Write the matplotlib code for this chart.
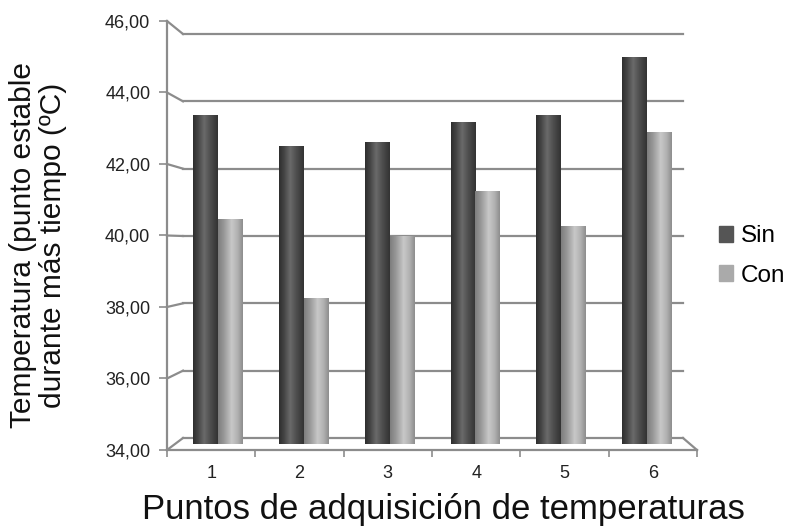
import numpy as np
import matplotlib
matplotlib.use("Agg")
import matplotlib.pyplot as plt
from matplotlib.colors import LinearSegmentedColormap
from matplotlib.lines import Line2D
from matplotlib.patches import Rectangle

# ---- data ----
categories = ["1", "2", "3", "4", "5", "6"]
sin_values = [43.5, 42.6, 42.7, 43.3, 43.5, 45.15]
con_values = [40.5, 38.2, 40.0, 41.3, 40.3, 43.0]
series_names = ["Sin", "Con"]
y_ticks = [34, 36, 38, 40, 42, 44, 46]
y_tick_labels = ["34,00", "36,00", "38,00", "40,00", "42,00", "44,00", "46,00"]
x_label = "Puntos de adquisición de temperaturas"
y_label = "Temperatura (punto estable\ndurante más tiempo (ºC)"

plt.rcParams['font.family'] = ['Liberation Sans', 'DejaVu Sans']

W, H = 795, 529
fig = plt.figure(figsize=(W / 100, H / 100), dpi=100)
fig.patch.set_facecolor("white")


def rect(x0, y0, x1, y1):
    return [x0 / W, 1 - y1 / H, (x1 - x0) / W, (y1 - y0) / H]


grid_col = "#8c8c8c"
ymin, ymax = 34, 46
n = len(categories)
xpos = np.arange(1, n + 1)

# back wall with gridlines
ax_back = fig.add_axes(rect(183, 34, 683, 438))
ax_back.set_xlim(0, 1)
ax_back.set_ylim(ymin, ymax)
for v in y_ticks:
    ax_back.axhline(v, color=grid_col, lw=1.6, clip_on=False)
ax_back.axis("off")

# front axes (labels, spines)
ax_front = fig.add_axes(rect(167, 21, 697, 450))
ax_front.set_facecolor("none")
ax_front.set_xlim(0.5, n + 0.5)
ax_front.set_ylim(ymin, ymax)
ax_front.set_yticks(y_ticks)
ax_front.set_yticklabels(y_tick_labels, fontsize=13, color="#222222")
ax_front.set_xticks(xpos)
ax_front.set_xticklabels(categories, fontsize=13, color="#222222")
ax_front.set_xticks(np.arange(0.5, n + 1, 1.0), minor=True)
ax_front.tick_params(axis="x", which="major", length=0, pad=11)
ax_front.tick_params(axis="x", which="minor", length=5, color=grid_col, width=1.2)
ax_front.tick_params(axis="y", which="major", length=6, color=grid_col, width=1.2, pad=6)
for s in ["top", "right"]:
    ax_front.spines[s].set_visible(False)
for s in ["left", "bottom"]:
    ax_front.spines[s].set_color(grid_col)
    ax_front.spines[s].set_linewidth(1.6)

# connecting lines front -> back
fig.canvas.draw()
inv = fig.transFigure.inverted()
for v in y_ticks:
    p1 = inv.transform(ax_front.transData.transform((0.5, v)))
    p2 = inv.transform(ax_back.transData.transform((0, v)))
    fig.add_artist(Line2D([p1[0], p2[0]], [p1[1], p2[1]], color=grid_col, lw=1.6))
p1 = inv.transform(ax_front.transData.transform((n + 0.5, ymin)))
p2 = inv.transform(ax_back.transData.transform((1, ymin)))
fig.add_artist(Line2D([p1[0], p2[0]], [p1[1], p2[1]], color=grid_col, lw=1.6))

# bars (mid-depth)
ax_bars = fig.add_axes(rect(175, 28, 690, 444))
ax_bars.set_facecolor("none")
ax_bars.set_xlim(0.5, n + 0.5)
ax_bars.set_ylim(ymin, ymax)
ax_bars.axis("off")

cmap_sin = LinearSegmentedColormap.from_list(
    "sin", [(0, "#2e2e2e"), (0.2, "#454545"), (0.45, "#6a6a6a"), (0.7, "#4e4e4e"), (1, "#333333")])
cmap_con = LinearSegmentedColormap.from_list(
    "con", [(0, "#7e7e7e"), (0.25, "#9a9a9a"), (0.55, "#c8c8c8"), (0.8, "#b0b0b0"), (1, "#8e8e8e")])

bw = 0.29
grad = np.linspace(0, 1, 64).reshape(1, -1)
for vals, off, cmap in [(sin_values, -bw / 2, cmap_sin), (con_values, bw / 2, cmap_con)]:
    bars = ax_bars.bar(xpos + off, np.array(vals) - ymin, bottom=ymin, width=bw,
                       color="none", edgecolor="none")
    for b in bars:
        x0, y0 = b.get_x(), b.get_y()
        w, h = b.get_width(), b.get_height()
        im = ax_bars.imshow(grad, cmap=cmap, aspect="auto",
                            extent=[x0, x0 + w, y0, y0 + h], zorder=2)
        im.set_clip_path(b)
ax_bars.set_xlim(0.5, n + 0.5)
ax_bars.set_ylim(ymin, ymax)

# legend
handles = [Rectangle((0, 0), 1, 1, color="#555555"), Rectangle((0, 0), 1, 1, color="#aaaaaa")]
fig.legend(handles, series_names, loc="center left", bbox_to_anchor=(697 / W, 1 - 256 / H),
           frameon=False, fontsize=17.5, handlelength=0.6, handleheight=0.6,
           handletextpad=0.3, labelspacing=0.7)

# axis labels
fig.text(443 / W, 1 - 509 / H, x_label, ha="center", va="center", fontsize=25, color="#111111")
fig.text(38 / W, 1 - 245 / H, y_label, ha="center", va="center", rotation=90,
         fontsize=21.5, color="#111111", linespacing=1.05, multialignment="center")

fig.savefig("out.png", dpi=100, facecolor="white")
